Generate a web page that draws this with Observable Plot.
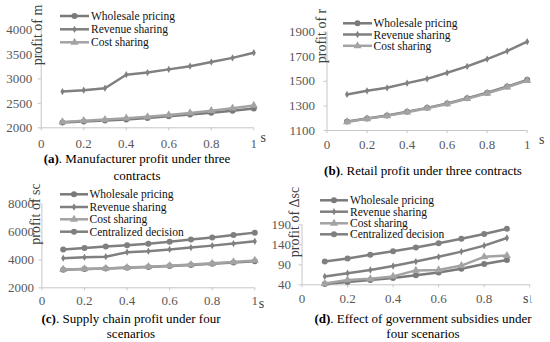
<!DOCTYPE html>
<html><head><meta charset="utf-8">
<script src="https://cdn.jsdelivr.net/npm/d3@7"></script>
<script src="https://cdn.jsdelivr.net/npm/@observablehq/plot@0.6"></script>
<style>
body{margin:0;background:#fff;}
#root{position:relative;width:550px;height:342px;overflow:hidden;background:#fff;font-family:"Liberation Serif","Times New Roman",serif;}
#root svg{position:absolute;}
#root svg, #root svg text{font-family:"Liberation Serif","Times New Roman",serif !important;}
.t{position:absolute;white-space:nowrap;line-height:1;transform:translate(-50%,-50%);}
.cap{font-size:13px;color:#000;}
.yt{transform:translate(-50%,-50%) rotate(-90deg);color:#404040;font-size:14px;}
.s{font-size:14px;color:#404040;}
</style></head><body><div id="root"></div>
<script>
// ---------- data ----------
const s10 = [0.1, 0.2, 0.3, 0.4, 0.5, 0.6, 0.7, 0.8, 0.9, 1.0];
const s9 = [0.1, 0.2, 0.3, 0.4, 0.5, 0.6, 0.7, 0.8, 0.9];
const xTickValues = [0, 0.2, 0.4, 0.6, 0.8, 1];
const xTickLabels = ["0", "0.2", "0.4", "0.6", "0.8", "1"];
const names = ["Wholesale pricing", "Revenue sharing", "Cost sharing", "Centralized decision"];

// (a) manufacturer profit
const mWholesale = [2110, 2130, 2150, 2172, 2200, 2238, 2270, 2308, 2348, 2395];
const mRevenue = [2740, 2770, 2810, 3085, 3130, 3195, 3260, 3345, 3430, 3535];
const mCost = [2120, 2145, 2168, 2195, 2225, 2262, 2305, 2350, 2400, 2457];
const aTicks = [2000, 2500, 3000, 3500, 4000];

// (b) retail profit
const rWholesale = [1173, 1198, 1222, 1252, 1284, 1320, 1363, 1407, 1458, 1512];
const rRevenue = [1393, 1423, 1447, 1485, 1520, 1569, 1621, 1681, 1746, 1822];
const rCost = [1170, 1195, 1219, 1249, 1281, 1316, 1358, 1402, 1452, 1505];
const bTicks = [1100, 1300, 1500, 1700, 1900];

// (c) supply chain profit
const scWholesale = [3300, 3340, 3380, 3430, 3490, 3560, 3640, 3720, 3810, 3900];
const scRevenue = [4120, 4180, 4230, 4550, 4620, 4750, 4880, 5020, 5170, 5330];
const scCost = [3310, 3350, 3390, 3445, 3510, 3580, 3665, 3750, 3850, 3960];
const scCentral = [4750, 4850, 4950, 5050, 5150, 5300, 5450, 5600, 5780, 5950];
const cTicks = [2000, 4000, 6000, 8000];

// (d) effect of government subsidies
const dWholesale = [42, 47, 52, 57, 64, 71, 80, 92, 102];
const dRevenue = [61, 69, 77, 87, 98, 110, 123, 138, 157];
const dCost = [43, 52, 55, 61, 76, 77, 88, 110, 113];
const dCentral = [98, 106, 115, 124, 133, 144, 155, 167, 180];
const dTicks = [40, 90, 140, 190];

// ---------- styles ----------
const sty = {
  "Wholesale pricing": {color: "#7a7a7a", sym: "circle", r: 3},
  "Revenue sharing": {color: "#808080", sym: "diamond", r: 2.2},
  "Cost sharing": {color: "#a3a3a3", sym: "triangle", r: 3},
  "Centralized decision": {color: "#7f7f7f", sym: "circle", r: 3}
};
const d3sym = {circle: d3.symbolCircle, diamond: d3.symbolDiamond, triangle: d3.symbolTriangle};

const root = document.getElementById("root");

function panel(cfg) {
  const {left, top, width, height, xPx, yPx, yDomain, yTicks, xs, series, xPad, yPad} = cfg;
  const data = series.flatMap(s => s.values.map((v, i) => ({name: s.name, x: xs[i], y: v})));
  const marks = [
    Plot.ruleY([yDomain[0]], {stroke: "#c6c6c6"}),
    Plot.ruleX([0], {stroke: "#c6c6c6"}),
    Plot.axisX({ticks: xTickValues, tickFormat: d => xTickLabels[xTickValues.indexOf(d)], label: null,
      tickSize: 3, tickPadding: xPad, stroke: "#c6c6c6", fill: "#595959", fontSize: 13}),
    Plot.axisY({ticks: yTicks, tickFormat: d => String(d), label: null,
      tickSize: 3, tickPadding: yPad, stroke: "#c6c6c6", fill: "#595959", fontSize: 13})
  ];
  for (const s of series) {
    const st = sty[s.name];
    const d = data.filter(e => e.name === s.name);
    marks.push(Plot.line(d, {x: "x", y: "y", stroke: st.color, strokeWidth: 2.5, strokeLinejoin: "round"}));
    marks.push(Plot.dot(d, {x: "x", y: "y", symbol: st.sym, r: st.r, fill: st.color, stroke: "none"}));
  }
  let el = Plot.plot({
    width, height,
    marginLeft: xPx[0] - left, marginRight: left + width - xPx[1],
    marginTop: yPx[1] - top, marginBottom: top + height - yPx[0],
    x: {domain: [0, 1], label: null}, y: {domain: yDomain, label: null},
    style: {fontFamily: "'Liberation Serif', serif", fontSize: "13px", background: "transparent", overflow: "visible"},
    marks
  });
  const svg = el.tagName.toLowerCase() === "svg" ? el : el.querySelector("svg");
  svg.style.left = left + "px";
  svg.style.top = top + "px";
  // legend
  const L = cfg.legend;
  const g = d3.select(svg).append("g").attr("text-anchor", "start");
  series.forEach((s, i) => {
    const st = sty[s.name];
    const y = L.ys[i] - top;
    g.append("line").attr("x1", L.x1 - left).attr("x2", L.x2 - left).attr("y1", y).attr("y2", y)
      .attr("stroke", st.color).attr("stroke-width", 2.5);
    g.append("path").attr("d", d3.symbol(d3sym[st.sym], Math.PI * st.r * st.r)())
      .attr("transform", `translate(${(L.x1 + L.x2) / 2 - left},${y})`).attr("fill", st.color);
    g.append("text").attr("x", L.tx - left).attr("y", y).attr("dy", "0.35em").attr("text-anchor", "start")
      .attr("font-size", L.fs).attr("fill", "#111").text(s.name);
  });
  root.appendChild(el);
}

function label(text, x, y, cls, html) {
  const d = document.createElement("div");
  d.className = "t " + cls;
  if (html) d.innerHTML = html; else d.textContent = text;
  d.style.left = x + "px";
  d.style.top = y + "px";
  root.appendChild(d);
  return d;
}

panel({left: 0, top: 0, width: 275, height: 150, xPx: [40.7, 253.3], yPx: [127.3, 29.5],
  yDomain: [2000, 4000], yTicks: aTicks, xs: s10, xPad: 8, yPad: 6,
  series: [{name: names[0], values: mWholesale}, {name: names[1], values: mRevenue}, {name: names[2], values: mCost}],
  legend: {x1: 60, x2: 89, tx: 91, ys: [16, 29.3, 42.3], fs: 11.5}});

panel({left: 275, top: 0, width: 275, height: 150, xPx: [326.5, 526.7], yPx: [130, 31.6],
  yDomain: [1100, 1900], yTicks: bTicks, xs: s10, xPad: 6, yPad: 9,
  series: [{name: names[0], values: rWholesale}, {name: names[1], values: rRevenue}, {name: names[2], values: rCost}],
  legend: {x1: 343, x2: 372, tx: 373.5, ys: [23.3, 34.5, 45.8], fs: 11.5}});

panel({left: 0, top: 171, width: 275, height: 150, xPx: [41.4, 254.3], yPx: [287.3, 203.5],
  yDomain: [2000, 8000], yTicks: cTicks, xs: s10, xPad: 5, yPad: 5,
  series: [{name: names[0], values: scWholesale}, {name: names[1], values: scRevenue}, {name: names[2], values: scCost}, {name: names[3], values: scCentral}],
  legend: {x1: 60, x2: 88, tx: 89.5, ys: [194.3, 207, 219.3, 231.7], fs: 11.5}});

panel({left: 275, top: 171, width: 275, height: 150, xPx: [301.5, 529.2], yPx: [284.3, 224.3],
  yDomain: [40, 190], yTicks: dTicks, xs: s9, xPad: 6, yPad: 8,
  series: [{name: names[0], values: dWholesale}, {name: names[1], values: dRevenue}, {name: names[2], values: dCost}, {name: names[3], values: dCentral}],
  legend: {x1: 320, x2: 348, tx: 350, ys: [200.3, 211.7, 223.3, 234.3], fs: 11.5}});

// axis titles
label("profit of m", 37.5, 35, "yt");
label("profit of r", 321.5, 36, "yt");
label("profit of sc", 35.7, 214, "yt");
label("profit of Δsc", 295, 222, "yt");
label("s", 263.3, 137.5, "s");
label("s", 541.7, 139.5, "s");
label("s", 261.5, 303.5, "s");
const sd = label("s", 525.7, 299, "s");
sd.style.background = "#fff"; sd.style.padding = "0 2px";

// captions
label("", 137, 158, "cap", "<b>(a)</b>. Manufacturer profit under three");
label("contracts", 137, 175, "cap");
label("", 423, 169.5, "cap", "<b>(b)</b>. Retail profit under three contracts");
label("", 131, 317.7, "cap", "<b>(c)</b>. Supply chain profit under four");
label("scenarios", 131, 332.7, "cap");
label("", 423, 317.7, "cap", "<b>(d)</b>. Effect of government subsidies under");
label("four scenarios", 423, 332.7, "cap");
</script></body></html>
